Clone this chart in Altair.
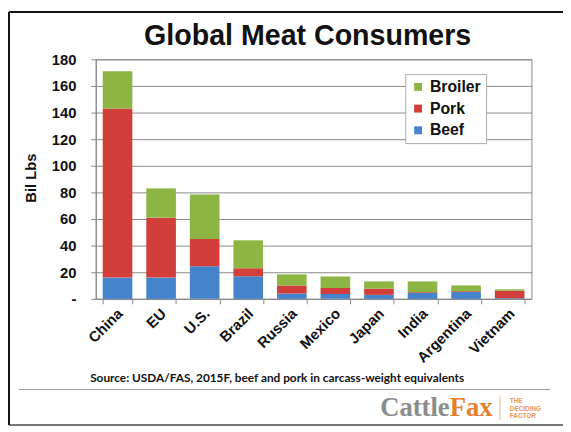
import altair as alt
import pandas as pd

countries = ['China', 'EU', 'U.S.', 'Brazil', 'Russia', 'Mexico', 'Japan', 'India', 'Argentina', 'Vietnam']
beef = [16, 16, 24.5, 17, 4, 3.7, 3, 4.4, 5.2, 0.5]
pork = [127, 45, 20.5, 6, 6, 4.4, 4.7, 0.6, 0.6, 5.7]
broiler = [28, 22, 33.5, 21, 8.4, 8.7, 5.4, 8.1, 4.3, 1.0]
series = ['Broiler', 'Pork', 'Beef']
colors = ['#8cb544', '#d23f3b', '#4584cb']
y_ticks = [0, 20, 40, 60, 80, 100, 120, 140, 160, 180]

rows = []
for i, c in enumerate(countries):
    rows.append({'country': c, 'type': 'Beef', 'ord': 0, 'value': beef[i]})
    rows.append({'country': c, 'type': 'Pork', 'ord': 1, 'value': pork[i]})
    rows.append({'country': c, 'type': 'Broiler', 'ord': 2, 'value': broiler[i]})
df = pd.DataFrame(rows)

FONT = 'Liberation Sans'

bars = alt.Chart(df).mark_bar().encode(
    x=alt.X('country:N', sort=countries,
            scale=alt.Scale(paddingInner=0.32, paddingOuter=0.16),
            axis=alt.Axis(title=None, labelAngle=-45, labelAlign='right', labelBaseline='middle',
                          labelFont=FONT, labelFontWeight='bold', labelFontSize=15, labelColor='#111',
                          labelPadding=7, labelOffset=2, tickBand='extent', tickSize=5, tickColor='#888',
                          domainColor='#888', grid=False)),
    y=alt.Y('value:Q', stack='zero',
            scale=alt.Scale(domain=[0, 180], nice=False),
            axis=alt.Axis(values=y_ticks, title='Bil Lbs', titleFont=FONT, titleFontSize=15,
                          titleFontWeight='bold', titleColor='#111', titleAngle=-90,
                          titleX=-66, titleY=120, titleAlign='center', titleBaseline='middle',
                          labelExpr="datum.value == 0 ? '-' : datum.label",
                          labelFont=FONT, labelFontWeight='bold', labelFontSize=15, labelColor='#111',
                          labelPadding=15, tickSize=5, tickColor='#888', domainColor='#888',
                          gridColor='#8a8a8a', gridWidth=1)),
    color=alt.Color('type:N', scale=alt.Scale(domain=series, range=colors),
                    legend=alt.Legend(title=None, orient='none', legendX=314, legendY=15,
                                      symbolType='square', symbolSize=64, symbolStrokeWidth=0,
                                      labelFont=FONT, labelFontWeight='bold', labelFontSize=16,
                                      labelColor='#111', strokeColor='#aaa', fillColor='white',
                                      padding=5, rowPadding=6, labelOffset=4)),
    order=alt.Order('ord:Q', sort='ascending'),
)

one = pd.DataFrame({'k': [0]})

title = alt.Chart(pd.DataFrame({'t': ['Global Meat Consumers']})).mark_text(
    font=FONT, fontWeight='bold', fontSize=29, color='#111', align='center', baseline='alphabetic'
).encode(text='t:N', x=alt.value(215), y=alt.value(-15))

source = alt.Chart(pd.DataFrame({'t': ['Source:  USDA/FAS, 2015F, beef and pork in carcass-weight equivalents']})).mark_text(
    font='Lato', fontWeight='bold', fontSize=12, color='#111', align='center', baseline='alphabetic'
).encode(text='t:N', x=alt.value(184), y=alt.value(327))

cattle = alt.Chart(pd.DataFrame({'t': ['Cattle']})).mark_text(
    font='Liberation Serif', fontWeight='bold', fontSize=27, color='#8c8c8c', align='right', baseline='alphabetic'
).encode(text='t:N', x=alt.value(359), y=alt.value(362))

fax = alt.Chart(pd.DataFrame({'t': ['Fax']})).mark_text(
    font='Liberation Serif', fontWeight='bold', fontSize=27, color='#e57f2c', align='left', baseline='alphabetic'
).encode(text='t:N', x=alt.value(359), y=alt.value(362))

tag = alt.Chart(pd.DataFrame({'t': ['THE', 'DECIDING', 'FACTOR'], 'yy': [349, 357, 364]})).mark_text(
    font=FONT, fontWeight='bold', fontSize=6.5, color='#e8955a', align='left', baseline='alphabetic'
).encode(text='t:N', x=alt.value(420), y=alt.Y('yy:Q', scale=None))

sep = alt.Chart(one).mark_rule(color='#e8b890', strokeWidth=1).encode(
    x=alt.value(410), y=alt.value(342), y2=alt.value(366))

src_line = alt.Chart(one).mark_rule(color='#999', strokeWidth=1).encode(
    x=alt.value(-78), x2=alt.value(461), y=alt.value(335))

bottom_line = alt.Chart(one).mark_rule(color='#777', strokeWidth=2).encode(
    x=alt.value(-88), x2=alt.value(474), y=alt.value(371))

left_line = alt.Chart(one).mark_rule(color='#111', strokeWidth=2).encode(
    x=alt.value(-88), y=alt.value(-48), y2=alt.value(371))

top_line = alt.Chart(one).mark_rule(color='#111', strokeWidth=2).encode(
    x=alt.value(-88), x2=alt.value(474), y=alt.value(-48))

chart = alt.layer(
    bars, title, source, cattle, fax, tag, sep, src_line, bottom_line, left_line, top_line
).resolve_scale(y='independent').properties(
    width=442, height=243,
    padding={'left': 89, 'top': 49, 'right': 32, 'bottom': 132},
    autosize=alt.AutoSizeParams(type='none'),
    background='white'
).configure_view(stroke='#888', strokeWidth=1)

chart.save('out.html', embed_options={'renderer': 'svg', 'actions': False})
